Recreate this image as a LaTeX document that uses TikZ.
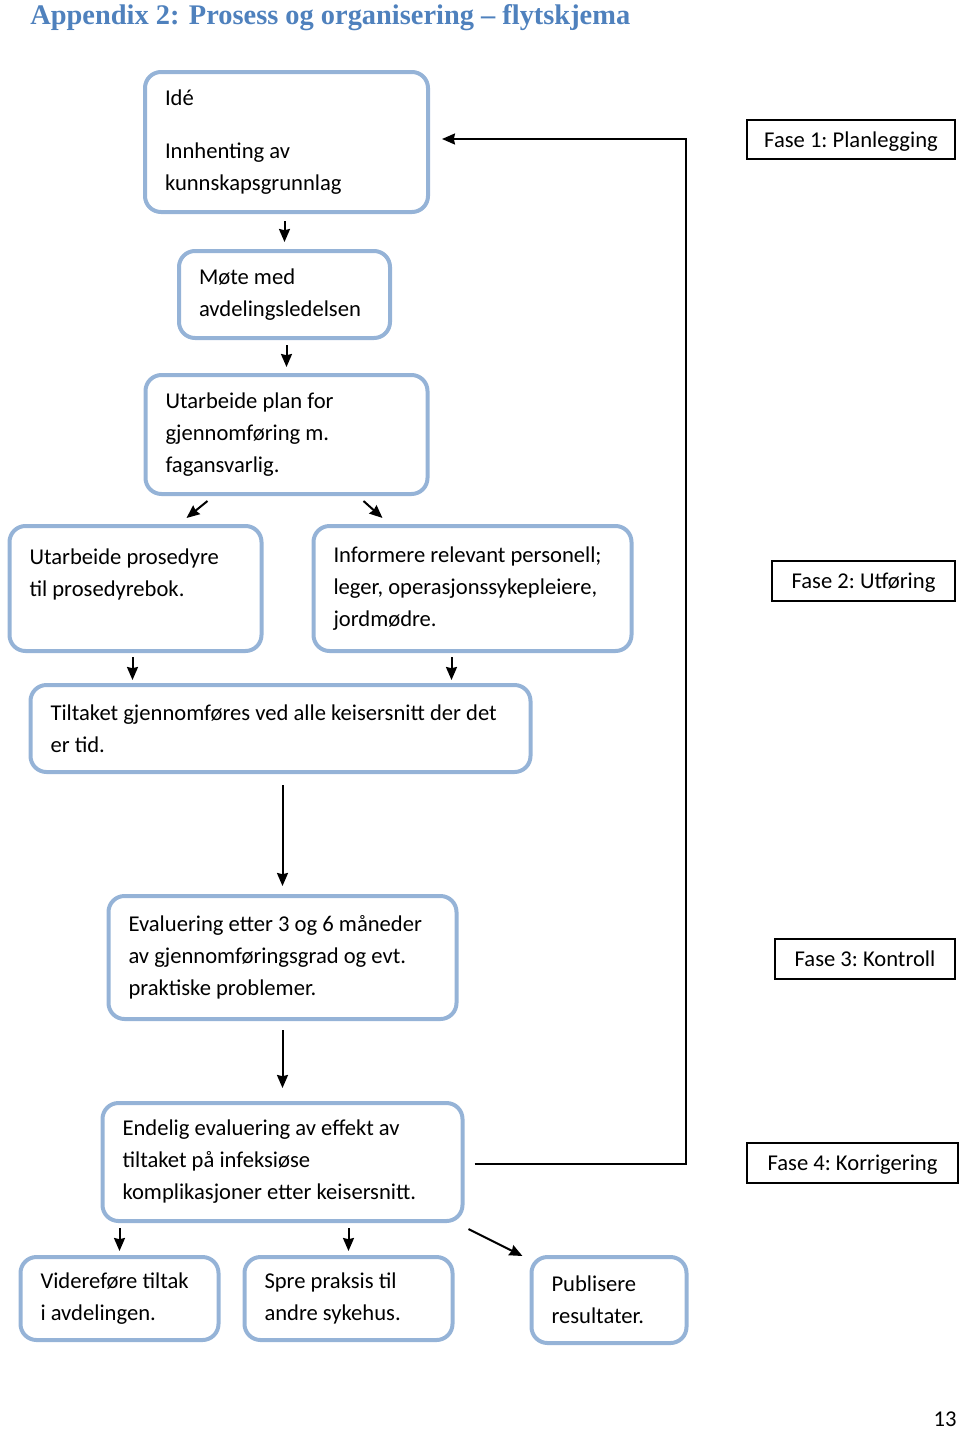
\documentclass[tikz,border=0pt]{standalone}
\usepackage{fontspec}
\setmainfont{Carlito}
\newfontfamily\headfont{Liberation Serif}
\usetikzlibrary{positioning, arrows.meta, calc}
\definecolor{stageblue}{RGB}{149,179,215}
\definecolor{headblue}{RGB}{79,129,189}
\newcommand{\boxfont}{\fontsize{11.3}{16}\selectfont\frenchspacing}
\tikzset{
stage/.style={draw=stageblue, line width=2pt, rounded corners=8pt, outer sep=0pt, align=flush left, inner xsep=10pt, inner ysep=0pt, font=\boxfont}, % the rounded boxes of the flow
fase/.style={draw, line width=0.75pt, outer sep=0pt, inner sep=0pt, text depth=0pt, font=\boxfont}, % phase labels on the right
flow/.style={->, >={Stealth[length=6.5pt,width=5.5pt,inset=0.6pt]}, line width=1pt, shorten <=5pt, shorten >=4.5pt}, % short arrows between the boxes
}
\begin{document}
\begin{tikzpicture}[x=0.5pt,y=-0.5pt]
\useasboundingbox (0,0) rectangle (960,1430);
\node[anchor=base west, inner sep=0pt, text=headblue, font=\headfont\bfseries\fontsize{14.2}{18}\selectfont] (title) at (30,24) {Appendix 2: Prosess og organisering – flytskjema};
\node[stage, text width=121.5pt, minimum height=70pt] (idea) at (286.5,142) {Idé\\[10.5pt]Innhenting av\\kunnskapsgrunnlag};
\node[stage, text width=85.5pt, minimum height=43.5pt, below=19.5pt of idea, xshift=-1pt] (mote) {Møte med\\avdelingsledelsen};
\node[stage, text width=121pt, minimum height=59.5pt, below=18.5pt of mote, xshift=1pt] (plan) {Utarbeide plan for\\gjennomføring m.\\fagansvarlig.};
\node[stage, text width=106pt, minimum height=62.5pt, below=16pt of plan, xshift=-75.5pt] (prosedyre) {Utarbeide prosedyre\\til prosedyrebok.\\\mbox{}};
\node[stage, text width=139pt, minimum height=62.5pt, below=16pt of plan, xshift=93pt] (informere) {Informere relevant personell;\\leger, operasjonssykepleiere,\\jordmødre.};
\node[stage, text width=230pt, minimum height=43.5pt, below=17pt of prosedyre, xshift=72.5pt] (tiltak) {Tiltaket gjennomføres ved alle keisersnitt der det\\er tid.};
\node[stage, text width=154pt, minimum height=61.5pt, below=62pt of tiltak, xshift=1pt] (eval) {Evaluering etter 3 og 6 måneder\\av gjennomføringsgrad og evt.\\praktiske problemer.};
\node[stage, text width=160pt, minimum height=59pt, below=42pt of eval] (endelig) {Endelig evaluering av effekt av\\tiltaket på infeksiøse\\komplikasjoner etter keisersnitt.};
\node[stage, text width=79pt, minimum height=41.5pt, below=18pt of endelig, xshift=-81.5pt] (videre) {Videreføre tiltak\\i avdelingen.};
\node[stage, text width=84pt, minimum height=41.5pt, below=18pt of endelig, xshift=33pt] (spre) {Spre praksis til\\andre sykehus.};
\node[stage, text width=57.5pt, minimum height=43pt, below=18pt of endelig, xshift=163.25pt] (publisere) {Publisere\\resultater.};
% phases
\node[fase, minimum width=104pt, minimum height=19.5pt] (fase1) at (851,139.5) {Fase 1: Planlegging};
\node[fase, minimum width=91.5pt, minimum height=20pt] (fase2) at (863.5,581) {Fase 2: Utføring};
\node[fase, minimum width=90pt, minimum height=20pt] (fase3) at (865,959) {Fase 3: Kontroll};
\node[fase, minimum width=105.5pt, minimum height=20pt] (fase4) at (852.5,1163) {Fase 4: Korrigering};
\node[anchor=base east, inner sep=0pt, font=\boxfont] (page) at (957,1426) {13};
% arrows
\coordinate (p1) at ($(prosedyre.south)+(-3,0)$);
\coordinate (i1) at ($(informere.south)+(-21,0)$);
\coordinate (back) at ($(idea.east)+(0,-3)$);
\draw[flow, shorten <=4.5pt] (mote.north |- idea.south) -- (mote.north);
\draw[flow, shorten <=3.5pt, shorten >=4pt] (plan.north |- mote.south) -- (plan.north);
\draw[flow, shorten <=0pt, shorten >=0pt] ($(plan.south west)+(62,7)$) -- ($(prosedyre.north east)+(-75,-8)$);
\draw[flow, shorten <=0pt, shorten >=0pt] ($(plan.south east)+(-64,7)$) -- ($(informere.north west)+(69,-8)$);
\draw[flow, shorten <=3pt, shorten >=2.5pt] (p1) -- (p1 |- tiltak.north);
\draw[flow, shorten <=3pt, shorten >=2.5pt] (i1) -- (i1 |- tiltak.north);
\draw[flow, shorten <=6.5pt, shorten >=5pt] (eval.north |- tiltak.south) -- (eval.north);
\draw[flow, shorten <=5.5pt, shorten >=7.5pt] (endelig.north |- eval.south) -- (endelig.north);
\draw[flow, shorten <=3.5pt, shorten >=3pt] (videre.north |- endelig.south) -- (videre.north);
\draw[flow, shorten <=3.5pt, shorten >=3pt] (spre.north |- endelig.south) -- (spre.north);
\draw[flow, shorten <=0pt, shorten >=0pt] ($(endelig.south east)+(6,8)$) -- ($(publisere.north west)+(-9,-1)$);
\draw[flow, shorten <=6pt, shorten >=7pt] ($(endelig.east)+(0,2)$) -- ++(223,0) |- (back); % back to the start
\end{tikzpicture}
\end{document}
